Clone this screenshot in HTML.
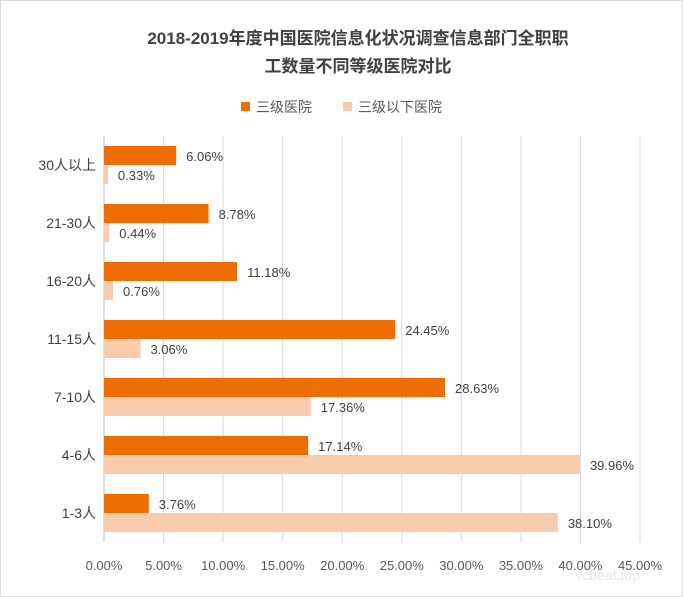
<!DOCTYPE html>
<html><head><meta charset="utf-8">
<style>
body{margin:0;background:#fff;}
#wrap{width:683px;height:597px;position:relative;overflow:hidden;font-family:"Liberation Sans","Noto Sans CJK SC",sans-serif;}
</style></head>
<body>
<div id="wrap">
<svg id="chart" width="683" height="597" xmlns="http://www.w3.org/2000/svg">
<rect x="0.5" y="0.5" width="682" height="596" fill="#fff" stroke="#d9d9d9"/>
<text x="358" y="44" text-anchor="middle" font-size="17" font-weight="bold" fill="#404040" font-family="Liberation Sans, Noto Sans CJK SC, sans-serif">2018-2019年度中国医院信息化状况调查信息部门全职职</text>
<text x="358" y="72" text-anchor="middle" font-size="17" font-weight="bold" fill="#404040" font-family="Liberation Sans, Noto Sans CJK SC, sans-serif">工数量不同等级医院对比</text>
<g>
<rect x="241" y="102" width="9" height="9" fill="#ED6D00"/>
<text x="256" y="112" font-size="14" fill="#595959" font-family="Liberation Sans, Noto Sans CJK SC, sans-serif">三级医院</text>
<rect x="343" y="102" width="9" height="9" fill="#F8CBAD"/>
<text x="358" y="112" font-size="14" fill="#595959" font-family="Liberation Sans, Noto Sans CJK SC, sans-serif">三级以下医院</text>
</g>
<g id="grid"></g>
<g id="bars"></g>
<g id="labels"></g>
<text x="640" y="580" text-anchor="end" font-size="14" fill="#e6e6e6" font-family="Liberation Sans, Noto Sans CJK SC, sans-serif">vcbeat.top</text>
</svg>
</div>
<script>
const categories = ["30人以上","21-30人","16-20人","11-15人","7-10人","4-6人","1-3人"];
const tertiary = [6.06, 8.78, 11.18, 24.45, 28.63, 17.14, 3.76];
const belowTertiary = [0.33, 0.44, 0.76, 3.06, 17.36, 39.96, 38.10];
const ticks = [0,5,10,15,20,25,30,35,40,45];

const NS = "http://www.w3.org/2000/svg";
const x0 = 104, x1 = 640, xmax = 45;
const plotTop = 136, step = 58, barH = 19;
function xs(v){ return x0 + (v / xmax) * (x1 - x0); }
function yc(i){ return plotTop + step * i + step / 2; }
function mk(tag, attrs, parent){ const e = document.createElementNS(NS, tag); for (const k in attrs) e.setAttribute(k, attrs[k]); parent.appendChild(e); return e; }
const grid = document.getElementById('grid'), bars = document.getElementById('bars'), labels = document.getElementById('labels');
const font = "Liberation Sans, Noto Sans CJK SC, sans-serif";
const bottom = plotTop + step * categories.length;

ticks.forEach(t => {
  const x = xs(t);
  if (t > 0) {
    const l = mk('line', {x1:x, x2:x, y1:plotTop, y2:bottom, stroke:'#d9d9d9', 'stroke-width':1}, grid);
    
    
  }
  const tx = mk('text', {x:x, y:bottom + 28, 'text-anchor':'middle', 'font-size':13, fill:'#595959', 'font-family':font}, labels);
  tx.textContent = t.toFixed(2) + '%';
  
  
});
const ax = mk('line', {x1:x0, x2:x0, y1:plotTop, y2:bottom, stroke:'#bfbfbf', 'stroke-width':1}, grid);



categories.forEach((c, i) => {
  const y = yc(i);
  const ct = mk('text', {x:x0 - 8, y:y + 5, 'text-anchor':'end', 'font-size':14, fill:'#404040', 'font-family':font}, labels);
  ct.textContent = c;
  
  

  const b1 = mk('rect', {x:x0, y:y - barH, width:xs(tertiary[i]) - x0, height:barH, fill:'#ED6D00'}, bars);
  
  
  const b2 = mk('rect', {x:x0, y:y, width:xs(belowTertiary[i]) - x0, height:barH, fill:'#F8CBAD'}, bars);
  
  

  const l1 = mk('text', {x:xs(tertiary[i]) + 10, y:y - 4, 'font-size':13, fill:'#404040', 'font-family':font}, labels);
  l1.textContent = tertiary[i].toFixed(2) + '%';
  
  
  const l2 = mk('text', {x:xs(belowTertiary[i]) + 10, y:y + 15, 'font-size':13, fill:'#404040', 'font-family':font}, labels);
  l2.textContent = belowTertiary[i].toFixed(2) + '%';
  
  
});
</script>
</body></html>
